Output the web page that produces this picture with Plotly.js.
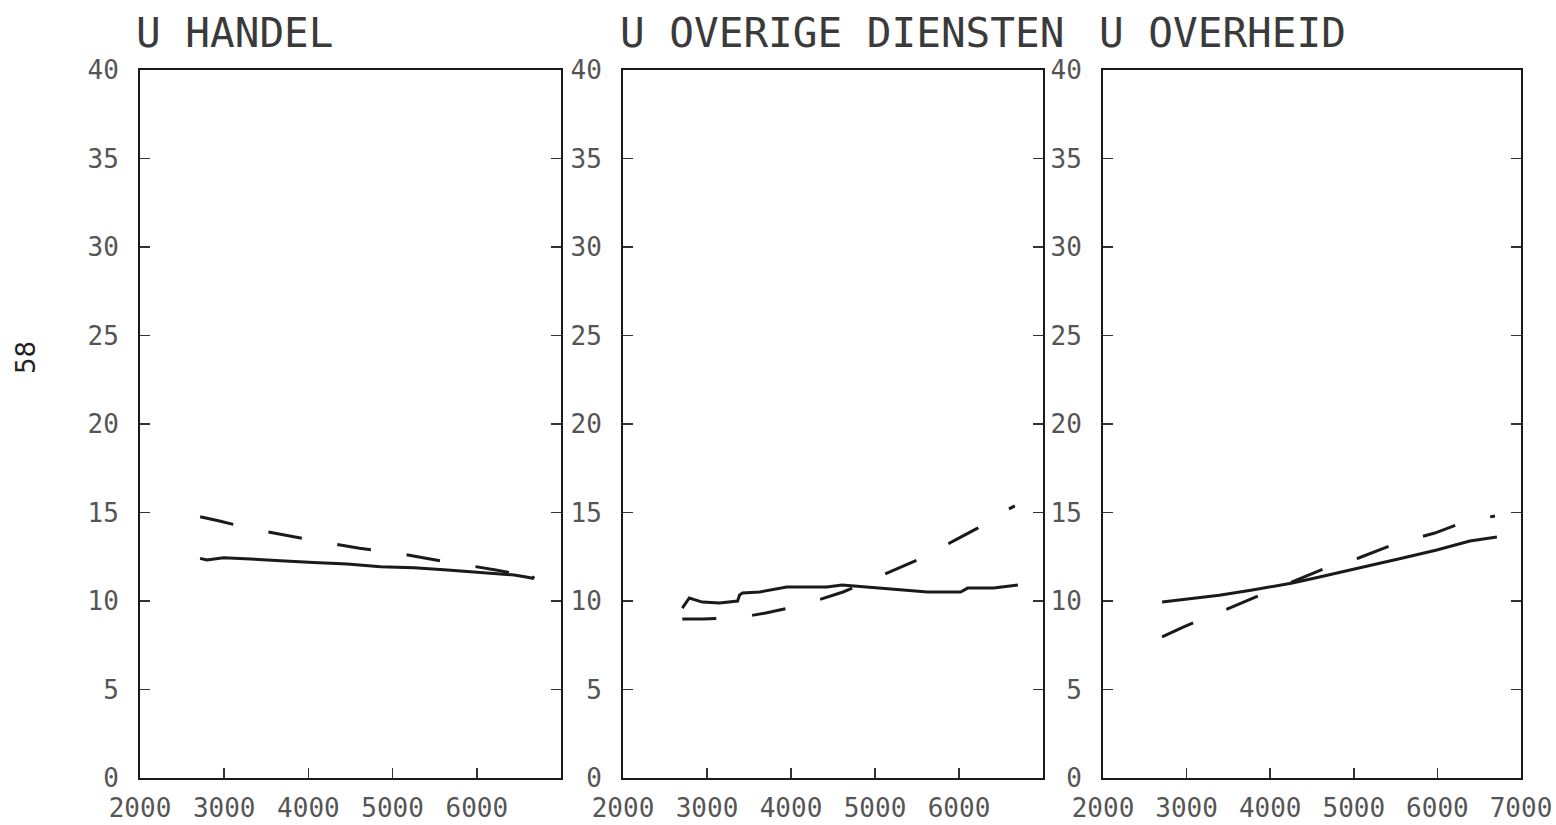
<!DOCTYPE html>
<html>
<head>
<meta charset="utf-8">
<script src="https://cdn.plot.ly/plotly-3.0.1.min.js"></script>
<style>
  html, body { margin: 0; padding: 0; background: #ffffff; }
  #chart { width: 1556px; height: 825px; }
</style>
</head>
<body>
<div id="chart"></div>
<script>
// Sector panels: solid = observed, dashed = fitted
const panelTitles = ['U HANDEL', 'U OVERIGE DIENSTEN', 'U OVERHEID'];
const pageNumber = '58';

const yTickVals = [0, 5, 10, 15, 20, 25, 30, 35, 40];
const xTickVals12 = [2000, 3000, 4000, 5000, 6000];
const xTickVals3 = [2000, 3000, 4000, 5000, 6000, 7000];

// HANDEL
const handelSolidX = [2714, 2794, 2992, 3389, 3667, 4063, 4460, 4857, 5254, 5651, 6048, 6444, 6603, 6663, 6679];
const handelSolidY = [12.41, 12.32, 12.45, 12.37, 12.28, 12.17, 12.09, 11.94, 11.88, 11.75, 11.6, 11.47, 11.34, 11.28, 11.4];
const handelDashX = [2714, 2944, 3349, 3706, 4143, 4607, 5036, 5512, 5968, 6226, 6680];
const handelDashY = [14.76, 14.52, 14.05, 13.73, 13.35, 12.98, 12.73, 12.32, 11.98, 11.75, 11.35];

// OVERIGE DIENSTEN
const dienstenSolidX = [2706, 2789, 2945, 3148, 3364, 3388, 3423, 3627, 3950, 4141, 4428, 4608, 4823, 5218, 5624, 6019, 6103, 6414, 6701];
const dienstenSolidY = [9.6, 10.17, 9.94, 9.89, 10.0, 10.34, 10.45, 10.51, 10.79, 10.79, 10.79, 10.9, 10.82, 10.68, 10.51, 10.51, 10.73, 10.73, 10.9];
const dienstenDashX = [2706, 2945, 3352, 3699, 4141, 4620, 5038, 5505, 5959, 6222, 6593, 6665];
const dienstenDashY = [8.98, 8.98, 9.04, 9.32, 9.77, 10.51, 11.36, 12.32, 13.45, 14.12, 15.2, 15.37];

// OVERHEID
const overheidSolidX = [2707, 3000, 3391, 3787, 4266, 4590, 5070, 5585, 5993, 6388, 6712];
const overheidSolidY = [9.95, 10.1, 10.32, 10.62, 11.02, 11.36, 11.86, 12.43, 12.88, 13.39, 13.62];
const overheidDashX = [2707, 2959, 3367, 3715, 4266, 4638, 5058, 5525, 5969, 6257, 6628, 6688];
const overheidDashY = [7.97, 8.53, 9.32, 10.0, 11.07, 11.81, 12.43, 13.28, 13.84, 14.35, 14.75, 14.8];

const W = 1556, H = 825;
const fx = p => p / W;
const fy = p => 1 - p / H;

const INK = '#1a1a1a';
const MONO = '"DejaVu Sans Mono", "Liberation Mono", monospace';
const solidLine = { color: INK, width: 3 };
const dashLine = { color: INK, width: 3, dash: '34px,36px' };

function pair(xs, ys, axisSuffix, line) {
  return {
    x: xs, y: ys, type: 'scatter', mode: 'lines',
    xaxis: 'x' + axisSuffix, yaxis: 'y' + axisSuffix,
    line: line, hoverinfo: 'skip', showlegend: false
  };
}

const traces = [
  pair(handelDashX, handelDashY, '', dashLine),
  pair(handelSolidX, handelSolidY, '', solidLine),
  pair(dienstenDashX, dienstenDashY, '2', dashLine),
  pair(dienstenSolidX, dienstenSolidY, '2', solidLine),
  pair(overheidDashX, overheidDashY, '3', dashLine),
  pair(overheidSolidX, overheidSolidY, '3', solidLine)
];

const tickFont = { family: MONO, size: 26, color: '#555' };

function xAxis(left, right, anchor, vals) {
  return {
    domain: [fx(left), fx(right)], anchor: anchor, range: [2000, 7000],
    showline: true, linewidth: 2, linecolor: INK, mirror: true,
    ticks: 'inside', ticklen: 10, tickwidth: 1.5, tickcolor: '#333',
    tickmode: 'array', tickvals: vals, ticktext: vals.map(String),
    showgrid: false, zeroline: false, tickfont: tickFont,
    ticklabelstandoff: 6
  };
}
function yAxis(anchor) {
  return {
    domain: [fy(778), fy(70)], anchor: anchor, range: [0, 40],
    showline: true, linewidth: 2, linecolor: INK, mirror: 'ticks',
    ticks: 'inside', ticklen: 10, tickwidth: 1.5, tickcolor: '#333',
    tickmode: 'array', tickvals: yTickVals, ticktext: yTickVals.map(String),
    showgrid: false, zeroline: false, tickfont: tickFont,
    ticklabelstandoff: 14
  };
}

const titleFont = { family: MONO, size: 41, color: '#3a3a3a' };
function titleNote(text, left) {
  return {
    text: text, xref: 'paper', yref: 'paper', x: fx(left), y: fy(33),
    xanchor: 'left', yanchor: 'middle', showarrow: false, font: titleFont
  };
}

const layout = {
  width: W, height: H,
  margin: { l: 0, r: 0, t: 0, b: 0 },
  paper_bgcolor: '#ffffff', plot_bgcolor: '#ffffff',
  xaxis: xAxis(140, 561, 'y', xTickVals12),
  yaxis: yAxis('x'),
  xaxis2: xAxis(623, 1043, 'y2', xTickVals12),
  yaxis2: yAxis('x2'),
  xaxis3: xAxis(1103, 1521, 'y3', xTickVals3),
  yaxis3: yAxis('x3'),
  annotations: [
    titleNote(panelTitles[0], 134),
    titleNote(panelTitles[1], 618),
    titleNote(panelTitles[2], 1097),
    {
      text: pageNumber, xref: 'paper', yref: 'paper', x: fx(26), y: fy(357),
      xanchor: 'center', yanchor: 'middle', showarrow: false, textangle: -90,
      font: { family: '"DejaVu Sans", sans-serif', size: 26, color: '#222' }
    }
  ]
};

Plotly.newPlot('chart', traces, layout, { staticPlot: true, displayModeBar: false });
</script>
</body>
</html>
